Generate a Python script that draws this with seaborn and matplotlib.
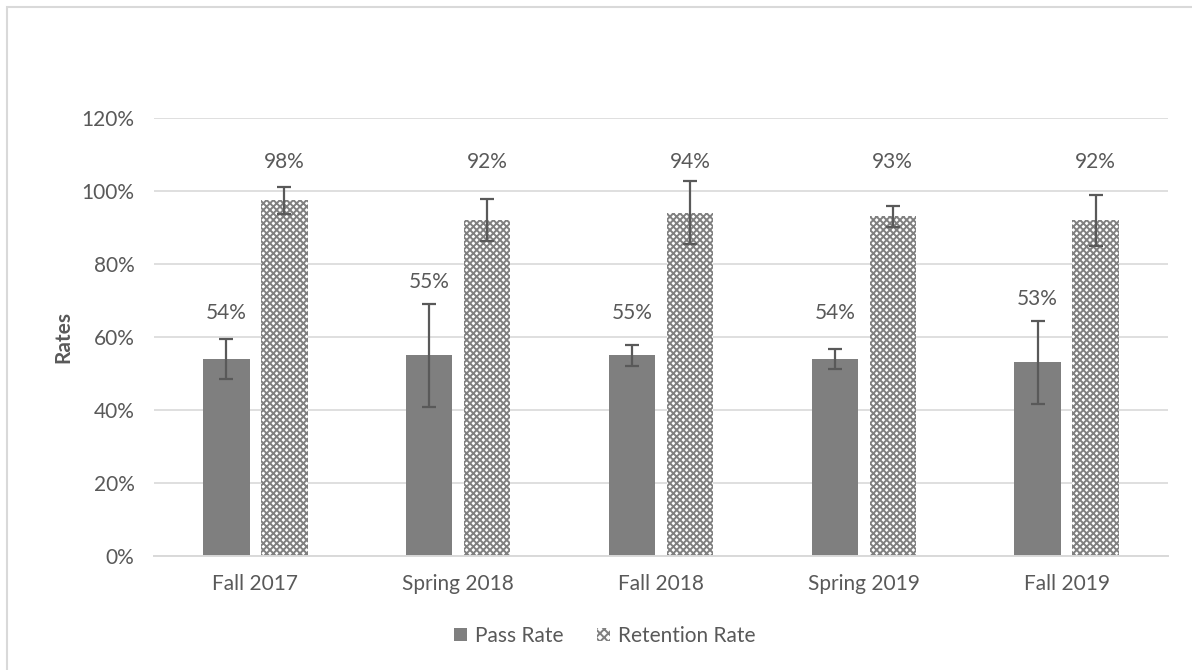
import matplotlib
matplotlib.use("Agg")
import matplotlib.pyplot as plt
from matplotlib.patches import Rectangle, Patch
import pandas as pd
import seaborn as sns

semesters = ["Fall 2017", "Spring 2018", "Fall 2018", "Spring 2019", "Fall 2019"]
pass_rate = [0.54, 0.55, 0.55, 0.54, 0.53]
retention_rate = [0.975, 0.92, 0.94, 0.93, 0.92]
pass_err = [0.055, 0.141, 0.029, 0.028, 0.113]
retention_err = [0.037, 0.057, 0.086, 0.030, 0.070]

df = pd.DataFrame({
    "Semester": semesters * 2,
    "Rate": pass_rate + retention_rate,
    "Series": ["Pass Rate"] * 5 + ["Retention Rate"] * 5,
})

sns.set_theme(style="white")
plt.rcParams["font.family"] = ["Lato", "DejaVu Sans"]
plt.rcParams["hatch.linewidth"] = 1.4

text_col = "#595959"
bar_col = "#7f7f7f"
grid_col = "#d9d9d9"
hatch_col = "#808080"

fig = plt.figure(figsize=(11.92, 6.70), dpi=100)
ax = fig.add_axes([154 / 1192, 1 - 555.7 / 670, 1014 / 1192, (555.7 - 118) / 670])

sns.barplot(data=df, x="Semester", y="Rate", hue="Series", errorbar=None,
            palette=[bar_col, "white"], width=0.572, gap=0.2, ax=ax,
            saturation=1, legend=False)

pass_bars, ret_bars = ax.containers[0], ax.containers[1]
for p in pass_bars:
    p.set_linewidth(0)
for p in ret_bars:
    p.set_facecolor("white")
    p.set_edgecolor(hatch_col)
    p.set_hatch("xxxxx")
    p.set_linewidth(0)

for bars, vals, errs in [(pass_bars, pass_rate, pass_err), (ret_bars, retention_rate, retention_err)]:
    xs = [b.get_x() + b.get_width() / 2 for b in bars]
    ax.errorbar(xs, vals, yerr=errs, fmt="none", ecolor="#595959",
                elinewidth=1.6, capsize=5, capthick=1.6, zorder=4)

# data labels
for b, v, e in zip(pass_bars, pass_rate, pass_err):
    x = b.get_x() + b.get_width() / 2
    ax.text(x, max(v + e + 0.06, 0.665), f"{v:.0%}", ha="center", va="center",
            fontsize=15, color=text_col)
for b, v in zip(ret_bars, retention_rate):
    x = b.get_x() + b.get_width() / 2
    ax.text(x, 1.08, f"{v:.0%}", ha="center", va="center",
            fontsize=15, color=text_col)

ax.set_ylim(0, 1.2)
ax.set_xlim(-0.5, 4.5)
ax.set_yticks([0, 0.2, 0.4, 0.6, 0.8, 1.0, 1.2])
ax.set_yticklabels([f"{int(round(t * 100))}%" for t in ax.get_yticks()])
ax.yaxis.grid(True, color=grid_col, linewidth=1.2)
ax.set_axisbelow(True)
for s in ["top", "right", "left"]:
    ax.spines[s].set_visible(False)
ax.spines["bottom"].set_color(grid_col)
ax.spines["bottom"].set_linewidth(1.4)
ax.tick_params(axis="both", length=0, labelsize=15, colors=text_col)
ax.tick_params(axis="y", pad=14)
ax.tick_params(axis="x", pad=13)
ax.set_xlabel("")
ax.set_ylabel("Rates", fontsize=15, fontweight="bold", color=text_col, labelpad=6)

handles = [Patch(facecolor=bar_col, edgecolor=bar_col, linewidth=0),
           Patch(facecolor="white", edgecolor=hatch_col, hatch="xxxx", linewidth=0)]
fig.legend(handles, ["Pass Rate", "Retention Rate"], loc="center",
           bbox_to_anchor=(605 / 1192, 1 - 636 / 670), ncol=2, frameon=False,
           fontsize=15, labelcolor=text_col, handlelength=0.6, handleheight=0.6,
           handletextpad=0.4, columnspacing=1.6)

# chart border
fig.patches.append(Rectangle((7 / 1192, -0.1), 1.2, 1.1 - 7 / 670, transform=fig.transFigure,
                             fill=False, edgecolor=grid_col, linewidth=1.5))

fig.savefig("out.png", dpi=100)
